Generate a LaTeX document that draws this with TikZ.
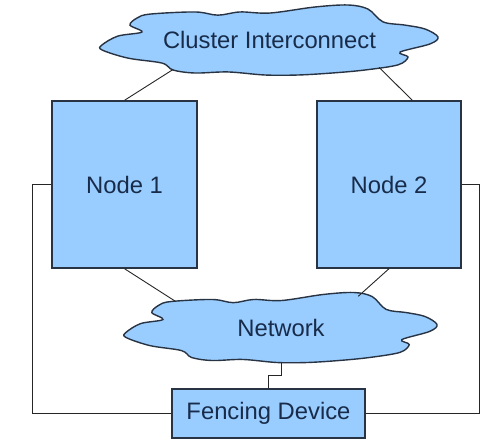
\documentclass[tikz,border=0pt]{standalone}
\usepackage{fontspec}
\setmainfont{Liberation Sans}
\usetikzlibrary{shapes.geometric, calc}

\definecolor{boxblue}{RGB}{153,204,255}
\definecolor{boxline}{RGB}{40,52,68}
\definecolor{boxtext}{RGB}{24,44,74}

\newcommand{\puffat}[3]{
	\begin{scope}[shift = {#1}, xscale = #2, yscale = #3]
	\draw[draw = boxline, fill = boxblue, line width = 0.7pt] plot[smooth cycle, tension = 0.55] coordinates {
		(-0.994, -0.14) (-0.90, 0.11) (-0.757, 0.225) (-0.828, 0.42) (-0.786, 0.62)
		(-0.709, 0.73) (-0.442, 0.79) (-0.306, 0.70) (-0.175, 0.79) (0.003, 0.76)
		(0.27, 0.93) (0.466, 0.986) (0.585, 0.87) (0.674, 0.51) (0.804, 0.42)
		(0.923, 0.31) (1.0, 0.085) (0.953, -0.11) (0.775, -0.34) (0.822, -0.48)
		(0.763, -0.70) (0.567, -0.845) (0.371, -0.93) (0.169, -0.986) (-0.027, -0.986)
		(-0.246, -0.90) (-0.442, -0.93) (-0.573, -0.845) (-0.638, -0.65) (-0.84, -0.51)
		(-0.994, -0.28)};
	\end{scope}
}

\begin{document}
\begin{tikzpicture}[x = 0.5pt, y = 0.5pt,
	label text/.style = {text = boxtext, font = \fontsize{11.9}{14}\selectfont, inner sep = 0pt},
	box/.style = {label text, draw = boxline, fill = boxblue, line width = 0.7pt},
	puff/.style = {label text, ellipse},
	wire/.style = {draw = black!85, line width = 0.45pt}]

\useasboundingbox (0, 0) rectangle (492, 446);

\puffat{(269.5, 406)}{168.5}{35.5}
\node[puff, minimum width = 168.5pt, minimum height = 35.5pt] (cic) at (269.5, 406) {Cluster Interconnect};
\puffat{(281, 118.5)}{156}{35.5}
\node[puff, minimum width = 156pt, minimum height = 35.5pt] (net) at (281, 118.5) {Network};

\node[box, minimum width = 72.5pt, minimum height = 83.5pt] (node1) at (124.5, 261.5) {Node 1};
\node[box, minimum width = 72pt, minimum height = 83.5pt] (node2) at (389, 261.5) {Node 2};
\node[box, minimum width = 96.5pt, minimum height = 24.5pt] (fence) at (268.5, 32.5) {Fencing Device};

\draw[wire] (node1.north) -- (cic.197);
\draw[wire] ($(node2.north west)!0.66!(node2.north east)$) -- (cic.346);
\draw[wire] (node1.south) -- (net.166);
\draw[wire] (node2.south) -- (net.22);

\draw[wire] (net.south) -- ++(0, -12) -| (fence.north);
\draw[wire] (node1.west) -- ++(-19, 0) |- (fence.west);
\draw[wire] (node2.east) -- ++(18, 0) |- (fence.east);

\end{tikzpicture}
\end{document}
